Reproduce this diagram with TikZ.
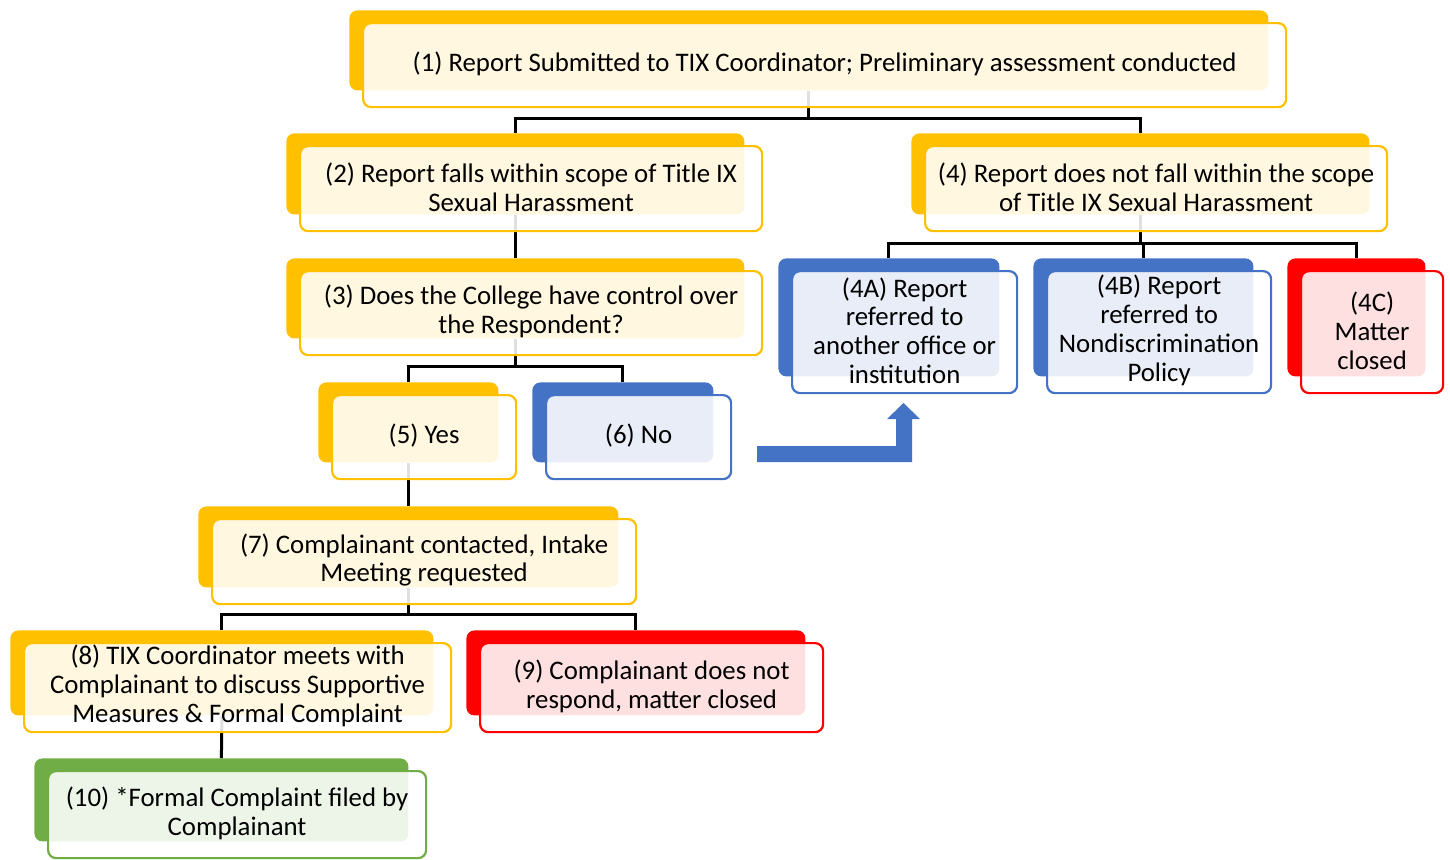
\documentclass[tikz,border=0pt]{standalone}
\usepackage{fontspec}
\setmainfont{Carlito}
\definecolor{tyellow}{HTML}{FFC000}
\definecolor{tblue}{HTML}{4472C4}
\definecolor{tred}{HTML}{FF0000}
\definecolor{tgreen}{HTML}{70AD47}
\pgfdeclarelayer{backl}
\pgfdeclarelayer{connl}
\pgfsetlayers{backl,connl,main}
\tikzset{
 backbox/.style={rounded corners=4pt, draw=none, inner sep=0pt, anchor=north west},
 frontbox/.style={rounded corners=4pt, fill=white, fill opacity=0.88, line width=1.1pt, inner sep=0pt, anchor=north west},
 txt/.style={align=center, font=\fontsize{13.4}{14.4}\selectfont, inner sep=0pt, yshift=0.8pt},
 conn/.style={line width=1.5pt, black},
}
\newcommand\tixbox[7]{%
 \begin{pgfonlayer}{backl}
 \node[backbox, fill=#2, minimum width={(#5-#3-4)*0.5pt}, minimum height={(#6-#4-4)*0.5pt}] (b#1) at (#3-13,#4-12) {};
 \end{pgfonlayer}
 \node[frontbox, draw=#2, minimum width={(#5-#3)*0.5pt}, minimum height={(#6-#4)*0.5pt}] (f#1) at (#3,#4) {};
 \node[txt] (t#1) at (f#1.center) {#7};
}
\begin{document}
\begin{tikzpicture}[x=0.5pt,y=-0.5pt]
\useasboundingbox (0,0) rectangle (1450,859);
\tixbox{1}{tyellow}{362}{22}{1285}{106}{(1) Report Submitted to TIX Coordinator; Preliminary assessment conducted}
\tixbox{2}{tyellow}{299}{145}{761}{230}{(2) Report falls within scope of Title IX\\Sexual Harassment}
\tixbox{4}{tyellow}{924}{145}{1386}{230}{(4) Report does not fall within the scope\\of Title IX Sexual Harassment}
\tixbox{3}{tyellow}{299}{270}{761}{354}{(3) Does the College have control over\\the Respondent?}
\tixbox{5}{tyellow}{331}{394}{515}{478}{(5) Yes}
\tixbox{6}{tblue}{545}{394}{730}{478}{(6) No}
\tixbox{4A}{tblue}{791}{270}{1016}{392}{(4A) Report\\referred to\\another office or\\institution}
\tixbox{4B}{tblue}{1046}{270}{1270}{392}{(4B) Report\\referred to\\Nondiscrimination\\Policy}
\tixbox{4C}{tred}{1300}{270}{1442}{392}{(4C)\\Matter\\closed}
\tixbox{7}{tyellow}{211}{518}{635}{603}{(7) Complainant contacted, Intake\\Meeting requested}
\tixbox{8}{tyellow}{23}{642}{450}{731}{(8) TIX Coordinator meets with\\Complainant to discuss Supportive\\Measures \& Formal Complaint}
\tixbox{9}{tred}{479}{642}{822}{731}{(9) Complainant does not\\respond, matter closed}
\tixbox{10}{tgreen}{47}{770}{425}{857}{(10) *Formal Complaint filed by\\Complainant}
\begin{pgfonlayer}{connl}
\draw[conn] (b1.south) -- ++(0,28) -| (b2.north);
\draw[conn] (b1.south) -- ++(0,28) -| (b4.north);
\draw[conn] (b2.south) -- (b3.north);
\draw[conn] (b3.south) -- ++(0,28) -| (b5.north);
\draw[conn] (b3.south) -- ++(0,28) -| (b6.north);
\draw[conn] (b4.south) -- ++(0,29) -| (b4A.north);
\draw[conn] (b4.south) -- ++(0,29) -| (b4B.north);
\draw[conn] (b4.south) -- ++(0,29) -| (b4C.north);
\draw[conn] (b5.south) -- (b7.north);
\draw[conn] (b7.south) -- ++(0,27) -| (b8.north);
\draw[conn] (b7.south) -- ++(0,27) -| (b9.north);
\draw[conn] (b8.south) -- (b10.north);
\end{pgfonlayer}
\fill[tblue] (757,446) -- (896,446) -- (896,419) -- (887,419) -- (903.5,403) -- (920,419) -- (912,419) -- (912,462) -- (757,462) -- cycle;
\end{tikzpicture}
\end{document}
